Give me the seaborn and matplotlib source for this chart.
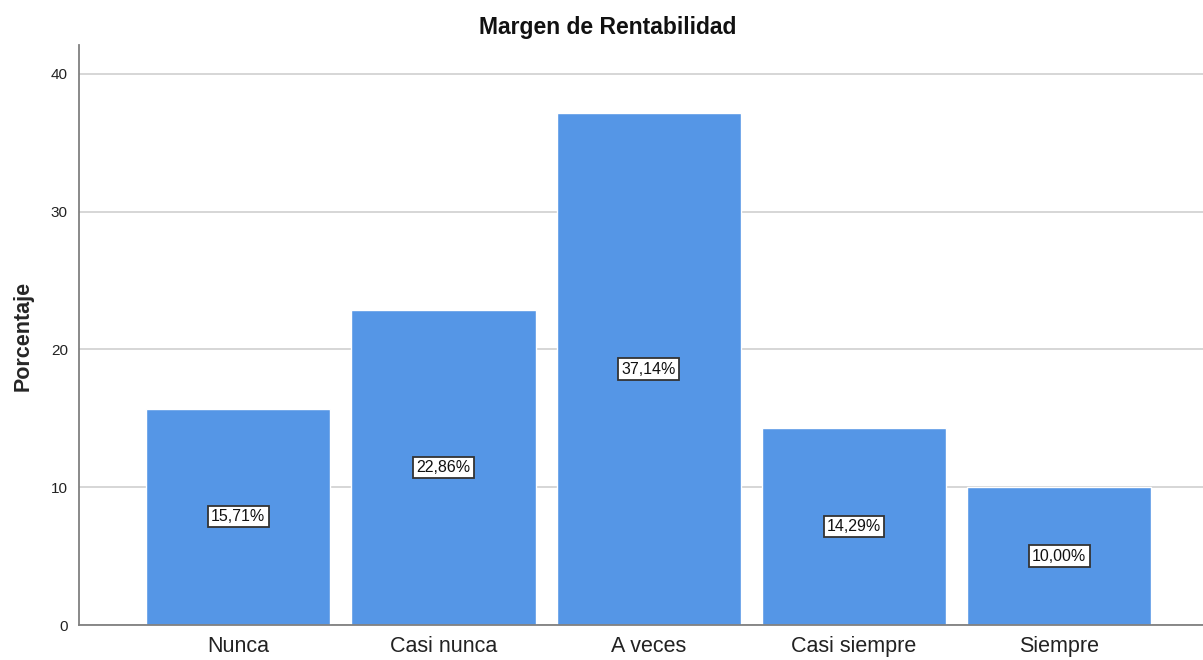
import matplotlib
matplotlib.use('Agg')
import matplotlib.pyplot as plt
import seaborn as sns
import pandas as pd

# Datos
categorias = ['Nunca', 'Casi nunca', 'A veces', 'Casi siempre', 'Siempre']
porcentajes = [15.71, 22.86, 37.14, 14.29, 10.00]
ticks_y = [0, 10, 20, 30, 40]

df = pd.DataFrame({'categoria': categorias, 'porcentaje': porcentajes})

sns.set_style('white')
plt.rcParams['font.family'] = ['Liberation Sans', 'DejaVu Sans']

fig = plt.figure(figsize=(12.03, 6.6), dpi=100)
ax = fig.add_axes([0.0657, 0.053, 0.9343, 0.879])

sns.barplot(data=df, x='categoria', y='porcentaje', color='#5596e6',
            saturation=1, width=0.898, ax=ax, zorder=2)

ax.set_xlim(-0.776, 4.70)
ax.set_ylim(0, 42.1)
ax.set_yticks(ticks_y)
ax.yaxis.grid(True, color='#cfcfcf', linewidth=1.2, zorder=0)
ax.set_axisbelow(True)

for s in ['top', 'right']:
    ax.spines[s].set_visible(False)
for s in ['left', 'bottom']:
    ax.spines[s].set_color('#808080')
    ax.spines[s].set_linewidth(1.3)

ax.tick_params(axis='x', length=0, labelsize=15.5, pad=8, colors='#222222')
ax.tick_params(axis='y', length=0, labelsize=11, pad=8, colors='#222222')

ax.set_xlabel('')
ax.set_ylabel('Porcentaje', fontsize=15.5, fontweight='bold')
ax.yaxis.set_label_coords(-0.040, 0.498)
# titulo centrado sobre la figura, como en el original
fig.text(0.505, 0.958, 'Margen de Rentabilidad', ha='center', va='center',
         fontsize=16.5, fontweight='bold', color='#111111')

# Etiquetas de valor centradas en la barra
for i, v in enumerate(porcentajes):
    etiqueta = f'{v:.2f}%'.replace('.', ',')
    ax.text(i, v / 2, etiqueta, ha='center', va='center', fontsize=11.5,
            color='#111111', zorder=5,
            bbox=dict(boxstyle='square,pad=0.2', facecolor='white',
                      edgecolor='#333333', linewidth=1.3))

fig.savefig('out.png', dpi=100)
